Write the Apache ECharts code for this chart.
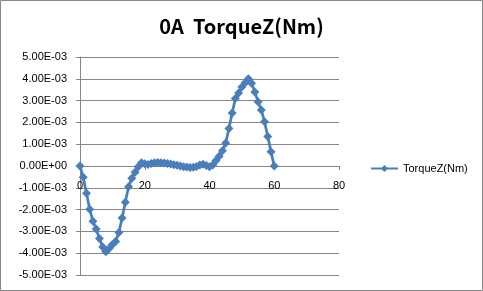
<!DOCTYPE html>
<html><head><meta charset="utf-8">
<script src="https://cdn.jsdelivr.net/npm/echarts@6/dist/echarts.min.js"></script>
<style>html,body{margin:0;padding:0;background:#fff}#c{width:483px;height:291px}</style>
</head><body><div id="c"></div>
<script>
const titleText = '0A  TorqueZ(Nm)';
const seriesName = 'TorqueZ(Nm)';
const xValues = [0,1,2,3,4,5,6,7,8,9,10,11,12,13,14,15,16,17,18,19,20,21,22,23,24,25,26,27,28,29,30,31,32,33,34,35,36,37,38,39,40,41,42,43,44,45,46,47,48,49,50,51,52,53,54,55,56,57,58,59,60];
const torqueZ = [0,-0.52e-3,-1.25e-3,-1.98e-3,-2.54e-3,-2.89e-3,-3.33e-3,-3.71e-3,-3.93e-3,-3.78e-3,-3.6e-3,-3.46e-3,-3.05e-3,-2.39e-3,-1.66e-3,-0.95e-3,-0.56e-3,-0.29e-3,-0.03e-3,0.15e-3,0.1e-3,0.07e-3,0.12e-3,0.15e-3,0.16e-3,0.15e-3,0.14e-3,0.12e-3,0.09e-3,0.06e-3,0.03e-3,0,-0.03e-3,-0.05e-3,-0.07e-3,-0.06e-3,-0.02e-3,0.05e-3,0.08e-3,0.02e-3,-0.04e-3,0.05e-3,0.25e-3,0.45e-3,0.7e-3,1.05e-3,1.72e-3,2.43e-3,3.1e-3,3.35e-3,3.62e-3,3.82e-3,4.0e-3,3.8e-3,3.4e-3,2.95e-3,2.57e-3,2.03e-3,1.35e-3,0.65e-3,0];
const xTicks = [0,20,40,60,80];
const yTicks = [-5e-3,-4e-3,-3e-3,-2e-3,-1e-3,0,1e-3,2e-3,3e-3,4e-3,5e-3];

function sci(v){
  if (Math.abs(v) < 1e-12) return '0.00E+00';
  const parts = v.toExponential(2).split('e');
  const e = parseInt(parts[1],10);
  const s = e < 0 ? '-' : '+';
  const a = Math.abs(e);
  return parts[0] + 'E' + s + (a < 10 ? '0' + a : String(a));
}

const chart = echarts.init(document.getElementById('c'), null, {renderer:'canvas'});
const gray = '#868686';
const gridTop = 57, gridH = 218, H = 291;
chart.setOption({
  animation:false,
  backgroundColor:'#fff',
  graphic:[{type:'rect',shape:{x:0.5,y:0.5,width:482,height:290},style:{fill:'none',stroke:gray,lineWidth:1},silent:true}],
  title:{text:titleText,left:'center',top:11,textStyle:{fontFamily:'"Noto Sans CJK KR", "DejaVu Sans", sans-serif',fontWeight:'bold',fontSize:20,color:'#000'}},
  legend:{data:[seriesName],orient:'vertical',left:365,top:158,itemWidth:27,itemHeight:9,textStyle:{fontFamily:'"Liberation Sans", Arial, sans-serif',fontSize:11,color:'#000'}},
  grid:{left:80,right:144,top:gridTop,bottom:H-gridTop-gridH,containLabel:false,outerBoundsMode:'none'},
  xAxis:{type:'value',min:xTicks[0],max:xTicks[xTicks.length-1],interval:20,
    position:'bottom',offset:-gridH/2,
    axisLine:{onZero:false,lineStyle:{color:gray,width:1}},
    axisTick:{show:true,inside:false,length:4,lineStyle:{color:gray}},
    axisLabel:{margin:14,color:'#000',fontFamily:'"Liberation Sans", Arial, sans-serif',fontSize:11},
    splitLine:{show:false}},
  yAxis:{type:'value',min:yTicks[0],max:yTicks[yTicks.length-1],interval:1e-3,
    axisLine:{show:true,onZero:false,lineStyle:{color:gray,width:1}},
    axisTick:{show:true,inside:false,length:4,lineStyle:{color:gray}},
    axisLabel:{margin:13,color:'#000',fontFamily:'"Liberation Sans", Arial, sans-serif',fontSize:11,formatter:sci},
    splitLine:{show:true,lineStyle:{color:gray,width:1}}},
  series:[{name:seriesName,type:'line',data:xValues.map((x,i)=>[x,torqueZ[i]]),
    symbol:'diamond',symbolSize:9,showSymbol:true,
    lineStyle:{color:'#4A7EBB',width:2.75},itemStyle:{color:'#4A7EBB'}}]
});
</script></body></html>
